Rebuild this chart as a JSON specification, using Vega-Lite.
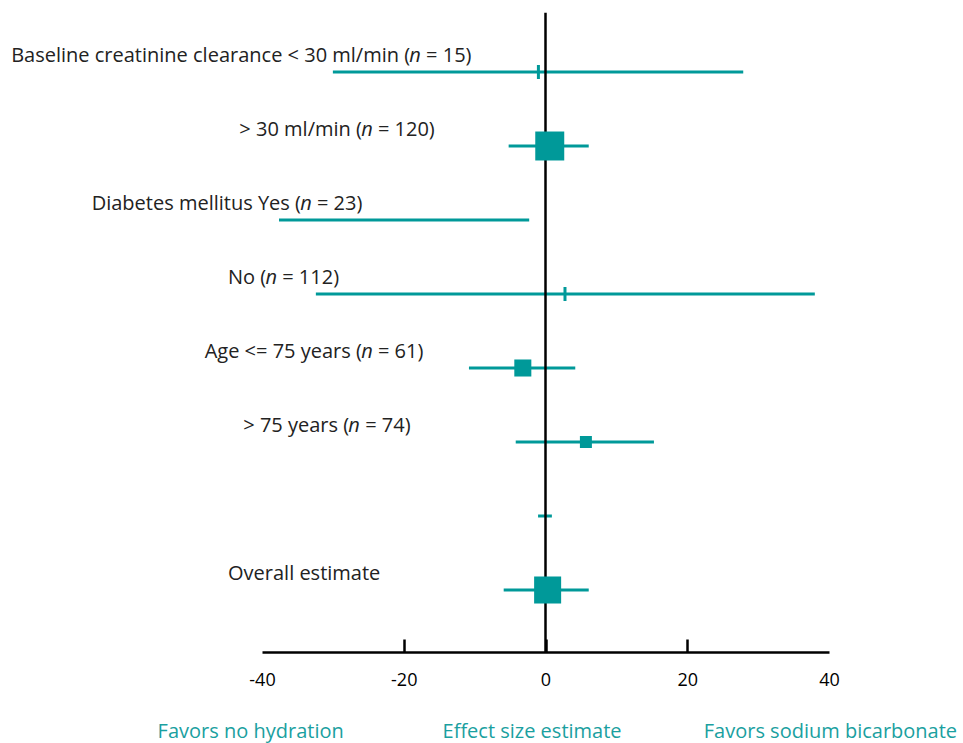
{
  "$schema": "https://vega.github.io/schema/vega-lite/v6.json",
  "width": 963,
  "height": 652,
  "autosize": {"type": "none"},
  "padding": {"left": 0, "top": 0, "right": 0, "bottom": 91},
  "background": "white",
  "config": {
    "view": {"stroke": null},
    "font": "Open Sans",
    "text": {"font": "Open Sans"}
  },
  "data": {
    "values": [
      {"row": 1, "label": "Baseline creatinine clearance < 30 ml/min (", "n": "= 15)", "lo": -30.0, "hi": 27.9, "est": -1.0, "w": null, "marker": "tick", "at": -18.4},
      {"row": 2, "label": "> 30 ml/min (", "n": "= 120)", "lo": -5.2, "hi": 6.1, "est": 0.6, "w": 84, "marker": "square", "at": -25.2},
      {"row": 3, "label": "Diabetes mellitus Yes (", "n": "= 23)", "lo": -37.6, "hi": -2.3, "est": null, "w": null, "marker": null, "at": -33.8},
      {"row": 4, "label": "No (", "n": "= 112)", "lo": -32.4, "hi": 38.0, "est": 2.75, "w": null, "marker": "tick", "at": -38.7},
      {"row": 5, "label": "Age <= 75 years (", "n": "= 61)", "lo": -10.8, "hi": 4.2, "est": -3.2, "w": 29, "marker": "square", "at": -25.2},
      {"row": 6, "label": "> 75 years (", "n": "= 74)", "lo": -4.2, "hi": 15.3, "est": 5.7, "w": 14.4, "marker": "square", "at": -27.0},
      {"row": 7, "label": null, "n": null, "lo": -1.05, "hi": 0.9, "est": null, "w": null, "marker": null, "at": null},
      {"row": 8, "label": "Overall estimate", "n": null, "lo": -5.9, "hi": 6.1, "est": 0.3, "w": 73, "marker": "square", "at": -22.6}
    ]
  },
  "layer": [
    {
      "mark": {"type": "rule", "color": "#009999", "strokeWidth": 3},
      "encoding": {
        "y": {"field": "row", "type": "quantitative", "scale": {"domain": [0, 9], "range": [-2, 664], "zero": false, "nice": false}, "axis": null},
        "x": {"field": "lo", "type": "quantitative",
          "scale": {"domain": [-40, 40], "range": [262, 829], "nice": false, "zero": false},
          "axis": {
            "values": [-40, -20, 0, 20, 40],
            "labelExpr": "replace(datum.label, '\u2212', '-')",
            "title": null,
            "grid": false,
            "domainColor": "black",
            "domainWidth": 2.5,
            "tickColor": "black",
            "tickWidth": 2.5,
            "tickSize": -13,
            "tickOpacity": {"condition": {"test": "abs(datum.value) == 40", "value": 0}, "value": 1},
            "labelPadding": 32,
            "labelFontSize": 18,
            "labelColor": "black",
            "labelFont": "Open Sans",
            "labelFlush": false
          }
        },
        "x2": {"field": "hi"}
      }
    },
    {
      "transform": [{"filter": "datum.row == 1"}],
      "mark": {"type": "rule", "color": "black", "strokeWidth": 2.5},
      "encoding": {
        "x": {"datum": 0, "type": "quantitative"},
        "y": {"datum": 0.2, "type": "quantitative"},
        "y2": {"datum": 8.84}
      }
    },
    {
      "transform": [{"filter": "datum.marker == 'square'"}],
      "mark": {"type": "square", "color": "#009999", "filled": true, "opacity": 1},
      "encoding": {
        "y": {"field": "row", "type": "quantitative"},
        "x": {"field": "est", "type": "quantitative"},
        "size": {"field": "w", "type": "quantitative", "scale": {"domain": [0, 100], "range": [0, 1000]}, "legend": null}
      }
    },
    {
      "transform": [{"filter": "datum.marker == 'tick'"}],
      "mark": {"type": "tick", "color": "#009999", "thickness": 3, "size": 14, "orient": "vertical", "opacity": 1},
      "encoding": {
        "y": {"field": "row", "type": "quantitative"},
        "x": {"field": "est", "type": "quantitative"}
      }
    },
    {
      "transform": [{"filter": "datum.label != null"}],
      "mark": {"type": "text", "align": "right", "baseline": "middle", "dx": -5, "dy": -16, "fontSize": 20, "color": "#222222"},
      "encoding": {
        "y": {"field": "row", "type": "quantitative"},
        "x": {"field": "at", "type": "quantitative"},
        "text": {"field": "label"}
      }
    },
    {
      "transform": [{"filter": "datum.n != null"}],
      "mark": {"type": "text", "align": "center", "baseline": "middle", "dy": -16, "fontSize": 20, "fontStyle": "italic", "color": "#222222"},
      "encoding": {
        "y": {"field": "row", "type": "quantitative"},
        "x": {"field": "at", "type": "quantitative"},
        "text": {"value": "n"}
      }
    },
    {
      "transform": [{"filter": "datum.n != null"}],
      "mark": {"type": "text", "align": "left", "baseline": "middle", "dx": 11, "dy": -16, "fontSize": 20, "color": "#222222"},
      "encoding": {
        "y": {"field": "row", "type": "quantitative"},
        "x": {"field": "at", "type": "quantitative"},
        "text": {"field": "n"}
      }
    },
    {
      "transform": [{"filter": "datum.row == 1"}],
      "mark": {"type": "text", "align": "center", "baseline": "middle", "fontSize": 20, "color": "#1aa0a0"},
      "encoding": {
        "x": {"datum": -41.6, "type": "quantitative"},
        "y": {"datum": 9.92, "type": "quantitative"},
        "text": {"value": "Favors no hydration"}
      }
    },
    {
      "transform": [{"filter": "datum.row == 1"}],
      "mark": {"type": "text", "align": "center", "baseline": "middle", "fontSize": 20, "color": "#1aa0a0"},
      "encoding": {
        "x": {"datum": -1.9, "type": "quantitative"},
        "y": {"datum": 9.92, "type": "quantitative"},
        "text": {"value": "Effect size estimate"}
      }
    },
    {
      "transform": [{"filter": "datum.row == 1"}],
      "mark": {"type": "text", "align": "center", "baseline": "middle", "fontSize": 20, "color": "#1aa0a0"},
      "encoding": {
        "x": {"datum": 40.2, "type": "quantitative"},
        "y": {"datum": 9.92, "type": "quantitative"},
        "text": {"value": "Favors sodium bicarbonate"}
      }
    }
  ]
}
